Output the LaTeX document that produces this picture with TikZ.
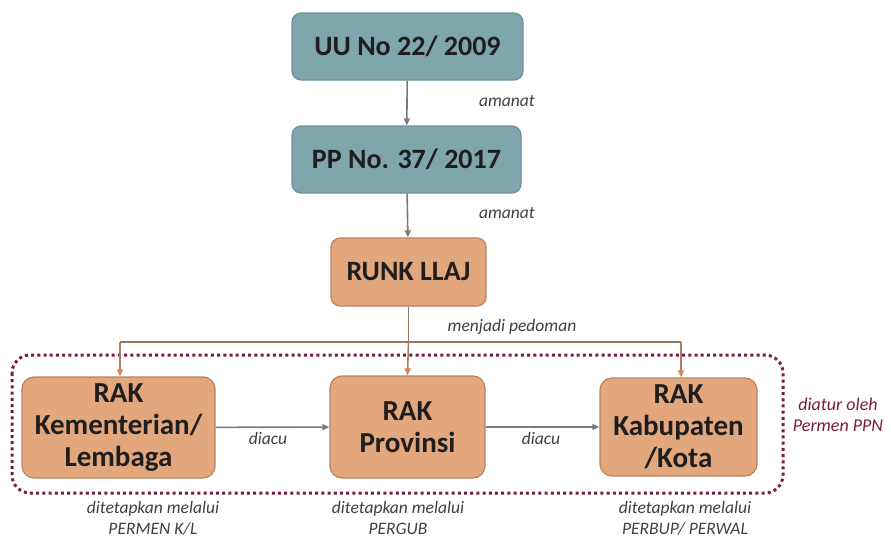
\documentclass[tikz,border=0pt]{standalone}
\usepackage{fontspec}
\setmainfont{Carlito}
\usetikzlibrary{arrows.meta}
\definecolor{tealfill}{HTML}{7FA6AC}
\definecolor{tealline}{HTML}{6C939A}
\definecolor{orfill}{HTML}{E3A77E}
\definecolor{orline}{HTML}{B9835E}
\definecolor{linkgrey}{HTML}{7A7A7A}
\definecolor{linkbrown}{HTML}{8C7A6C}
\definecolor{tiporange}{HTML}{D4845A}
\definecolor{wine}{HTML}{7A1C3C}
\definecolor{boxtext}{HTML}{1E1E1E}
\tikzset{
  x=1pt, y=-1pt,
  lawbox/.style={draw=tealline, line width=1.2pt, fill=tealfill, rounded corners=9pt,
    font=\bfseries\fontsize{28}{30}\selectfont, text=boxtext, align=center},
  rakbox/.style={draw=orline, line width=1.2pt, fill=orfill, rounded corners=12pt,
    font=\bfseries\fontsize{29}{32}\selectfont, text=boxtext, align=center},
  lbl/.style={font=\itshape\fontsize{17.5}{21}\selectfont, text=black!75, align=center},
  greyarrow/.style={draw=linkgrey, line width=1.6pt, -{Triangle[length=7pt,width=6pt]}},
  brownline/.style={draw=linkbrown, line width=1.6pt},
  brownarrow/.style={draw=linkbrown!60!tiporange, line width=1.6pt, -{Triangle[length=7pt,width=6pt,color=tiporange,fill=tiporange]}},
}
\begin{document}
\begin{tikzpicture}
\useasboundingbox (0,0) rectangle (891,543);

% dotted frame around the three action plans
\draw[wine, line width=3pt, dash pattern=on 3pt off 3.2pt, rounded corners=18pt]
  (12,355) rectangle (783,493);

% legal basis chain
\node[lawbox, minimum width=231pt, minimum height=67pt] (uu) at (407.5,46.5) {UU No 22/ 2009};
\node[lawbox, minimum width=229pt, minimum height=67pt] (pp) at (406.5,159.5) {PP No. 37/ 2017};
\node[rakbox, font=\bfseries\fontsize{28}{30}\selectfont, rounded corners=9pt, minimum width=155pt, minimum height=68pt] (runk) at (408.5,272) {RUNK LLAJ};

% action plans
\node[rakbox, minimum width=193pt, minimum height=101pt] (kl) at (118.5,427.5) {RAK\\Kementerian/\\Lembaga};
\node[rakbox, minimum width=155pt, minimum height=102pt] (prov) at (407.5,427) {RAK\\Provinsi};
\node[rakbox, minimum width=157pt, minimum height=98pt] (kab) at (678.5,427) {RAK\\Kabupaten\\/Kota};

% mandates
\draw[greyarrow] (uu) -- (pp);
\draw[greyarrow] (pp) -- (runk);
\node[lbl] (am1) at (507,101) {amanat};
\node[lbl] (am2) at (507,213) {amanat};

% guidance from RUNK LLAJ
\coordinate (jn) at (408.5,342);
\coordinate (jl) at (120,342);
\coordinate (jr) at (681,342);
\draw[brownline] (runk.south) -- (jn);
\draw[brownline] (jl) -- (jr);
\draw[brownarrow] (jl) -- (jl |- kl.north);
\draw[brownarrow] (jn) -- (prov.north);
\draw[brownarrow] (jr) -- (jr |- kab.north);
\node[lbl] (pedoman) at (512,327) {menjadi pedoman};

% references between plans
\draw[greyarrow] (kl) -- (prov);
\draw[greyarrow] (prov) -- (kab);
\node[lbl] (diacu1) at (268,438) {diacu};
\node[lbl] (diacu2) at (541,438) {diacu};

% legal instruments
\node[lbl] (tkl) at (153,518) {ditetapkan melalui\\PERMEN K/L};
\node[lbl] (tprov) at (398,518) {ditetapkan melalui\\PERGUB};
\node[lbl] (tkab) at (685,518) {ditetapkan melalui\\PERBUP/ PERWAL};
\node[lbl, text=wine, font=\itshape\fontsize{18}{21}\selectfont] (ppn) at (838,415) {diatur oleh\\Permen PPN};
\end{tikzpicture}
\end{document}
